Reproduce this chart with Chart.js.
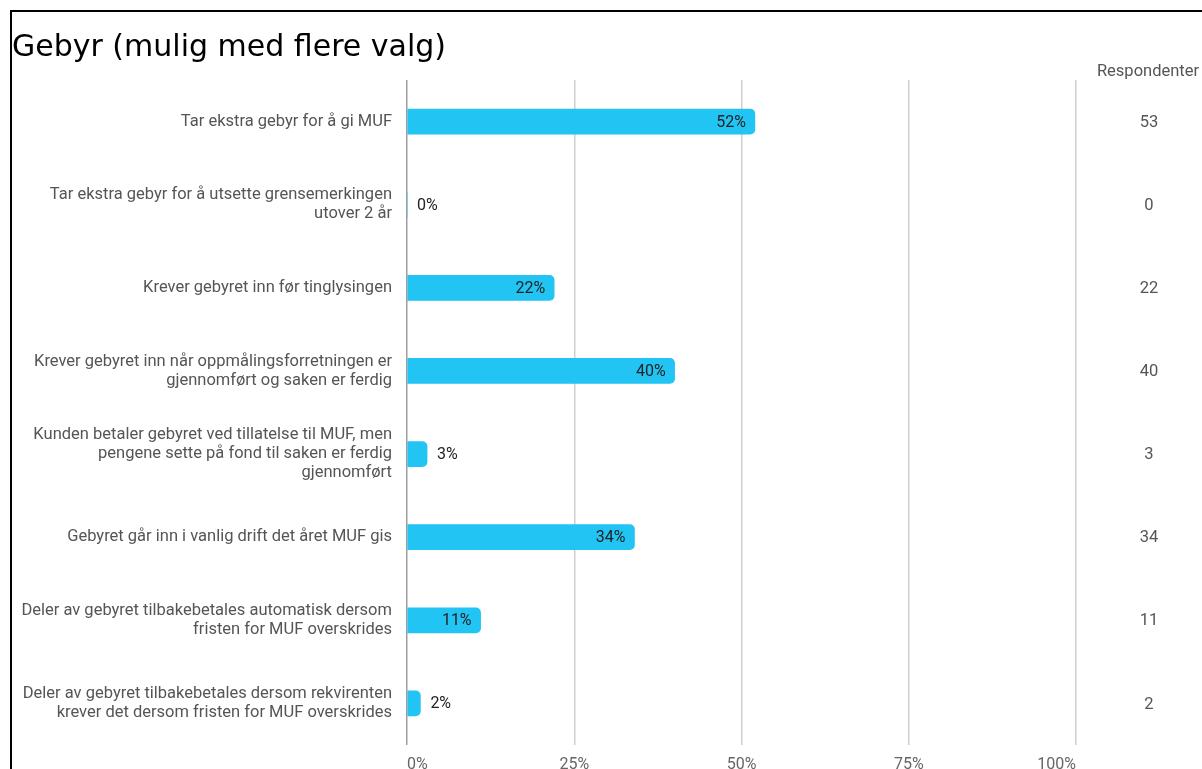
<!DOCTYPE html>
<html>
<head>
<meta charset="utf-8">
<script src="https://cdn.jsdelivr.net/npm/chart.js@4.4.1/dist/chart.umd.min.js"></script>
<style>
html, body { margin: 0; padding: 0; background: #fff; }
#wrap { width: 1202px; height: 769px; }
</style>
</head>
<body>
<div id="wrap"><canvas id="gebyr-chart" width="1202" height="769"></canvas></div>
<script>
// svaralternativer (flere linjer per etikett)
const kategorier = [
    ["Tar ekstra gebyr for å gi MUF"],
    ["Tar ekstra gebyr for å utsette grensemerkingen", "utover 2 år"],
    ["Krever gebyret inn før tinglysingen"],
    ["Krever gebyret inn når oppmålingsforretningen er", "gjennomført og saken er ferdig"],
    ["Kunden betaler gebyret ved tillatelse til MUF, men", "pengene sette på fond til saken er ferdig", "gjennomført"],
    ["Gebyret går inn i vanlig drift det året MUF gis"],
    ["Deler av gebyret tilbakebetales automatisk dersom", "fristen for MUF overskrides"],
    ["Deler av gebyret tilbakebetales dersom rekvirenten", "krever det dersom fristen for MUF overskrides"]
];
const andel = [52, 0, 22, 40, 3, 34, 11, 2];          // prosent
const respondenter = [53, 0, 22, 40, 3, 34, 11, 2];   // antall svar
const xTicks = [0, 25, 50, 75, 100];

const BLAA = "#21c4f3";

/*==================== verdietiketter, respondent-kolonne og ramme ====================*/
const ekstraTegning = {
    id: "ekstraTegning",
    afterDatasetsDraw(chart) {
        const ctx = chart.ctx;
        const meta = chart.getDatasetMeta(0);
        ctx.save();
        ctx.font = "16px Roboto";
        ctx.textBaseline = "middle";
        ctx.fillStyle = "#222";
        meta.data.forEach((bar, i) => {
            const v = andel[i];
            const tekst = v + "%";
            if (v >= 8) {
                ctx.textAlign = "right";
                ctx.fillText(tekst, bar.x - 9, bar.y + 1);
            } else {
                ctx.textAlign = "left";
                ctx.fillText(tekst, bar.x + 10, bar.y + 1);
            }
        });
        // kolonne til høyre
        ctx.font = "16.5px Roboto";
        ctx.fillStyle = "#555";
        ctx.textAlign = "center";
        ctx.fillText("Respondenter", 1148, 72);
        meta.data.forEach((bar, i) => {
            ctx.fillText(String(respondenter[i]), 1149, bar.y + 1);
        });
        ctx.restore();
    },
    afterDraw(chart) {
        const ctx = chart.ctx;
        ctx.save();
        ctx.fillStyle = "#000";
        ctx.fillRect(10, 10, chart.width - 10, 2);
        ctx.fillRect(10, 10, 2, chart.height - 10);
        ctx.restore();
    }
};

const gebyrChart = new Chart(document.getElementById("gebyr-chart"), {
    type: "bar",
    data: {
        labels: kategorier,
        datasets: [{
            data: andel,
            backgroundColor: BLAA,
            barThickness: 25,
            borderRadius: 5,
            borderSkipped: "start"
        }]
    },
    options: {
        indexAxis: "y",
        responsive: false,
        animation: false,
        devicePixelRatio: 1,
        layout: { padding: { left: 12, right: 126, top: 0, bottom: 0 } },
        plugins: {
            legend: { display: false },
            tooltip: { enabled: false },
            title: {
                display: true,
                text: "Gebyr (mulig med flere valg)",
                align: "start",
                color: "#000",
                font: { family: "'DejaVu Sans'", size: 30, weight: "normal", lineHeight: 1.2 },
                padding: { top: 30, bottom: 14 }
            }
        },
        scales: {
            x: {
                min: 0,
                max: 100,
                afterBuildTicks: s => { s.ticks = xTicks.map(v => ({ value: v })); },
                afterFit: s => { s.height = 24; },
                grid: {
                    color: c => (c.tick && c.tick.value === 0 ? "#9e9e9e" : "#cfcfcf"),
                    lineWidth: 1.5,
                    drawTicks: false
                },
                border: { display: false },
                ticks: {
                    color: "#666",
                    align: "inner",
                    font: { family: "Roboto", size: 16 },
                    padding: 10,
                    callback: v => v + "%"
                }
            },
            y: {
                afterFit: s => { s.width = 395; },
                grid: { display: false },
                border: { display: false },
                ticks: {
                    color: "#555",
                    font: { family: "Roboto", size: 16.5, lineHeight: 1.15 },
                    padding: 7
                }
            }
        }
    },
    plugins: [ekstraTegning]
});
</script>
</body>
</html>
